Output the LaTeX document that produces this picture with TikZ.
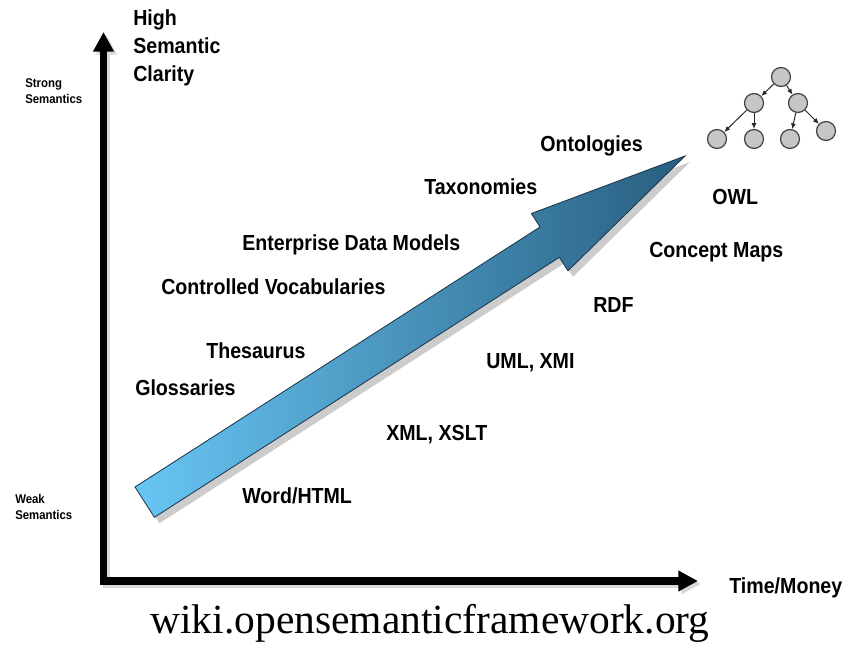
\documentclass[tikz,border=0pt]{standalone}
\usepackage{fontspec}
\setmainfont{Liberation Sans}[FakeStretch=0.9]
\newfontfamily\sitefont{Liberation Serif}
\usetikzlibrary{arrows.meta}

\definecolor{arrowlight}{RGB}{104,198,244}
\definecolor{arrowmid}{RGB}{80,168,218}
\definecolor{arrowdark}{RGB}{40,94,128}
\definecolor{arrowedge}{RGB}{30,55,75}

\tikzset{
	semaxis/.style={line width=5pt, line join=miter,
		{Triangle[length=14pt,width=14pt]}-{Triangle[length=14pt,width=14pt]}},
	term/.style={font=\bfseries\fontsize{15.5}{20}\selectfont, anchor=base west, inner sep=0pt},
	smallterm/.style={font=\bfseries\fontsize{9}{11.5}\selectfont, anchor=north west, align=left, inner sep=0pt},
	concept/.style={circle, draw=gray!55!black, fill=gray!45, line width=0.9pt, minimum size=13.5pt, inner sep=0pt},
	link/.style={draw=gray!30!black, line width=0.7pt, -{Latex[length=4pt,width=3.5pt]}},
}

\begin{document}
\begin{tikzpicture}[
			x=0.025cm, y=-0.025cm,
		]
		\useasboundingbox (0,0) rectangle (860,655);

		% axes
		\draw[semaxis, gray!30, shift={(3,3)}] (103.5,32) -- (103.5,581) -- (698,581);
		\draw[semaxis] (103.5,32) -- (103.5,581) -- (698,581);

		\node[term, anchor=north west, align=left, font=\bfseries\fontsize{15.5}{20}\selectfont] (clarity) at (133,9) {High\\Semantic\\Clarity};
		\node[smallterm] (strong) at (25,78) {Strong\\Semantics};
		\node[smallterm] (weak) at (15,494) {Weak\\Semantics};
		\node[term] (money) at (729,593) {Time/Money};

		% the big arrow
		\fill[gray!40, shift={(5,6)}] (135,487) -- (540,227) -- (531.4,213.5) -- (685,156)
			-- (568,270.8) -- (559.4,257.3) -- (154.4,517.3) -- cycle;
		\shade[left color=arrowlight, middle color=arrowmid, right color=arrowdark, draw=arrowedge, line width=0.6pt]
			(135,487) -- (540,227) -- (531.4,213.5) -- (685,156)
			-- (568,270.8) -- (559.4,257.3) -- (154.4,517.3) -- cycle;

		% above the arrow
		\node[term] (glossaries) at (135,395) {Glossaries};
		\node[term] (thesaurus) at (206,358) {Thesaurus};
		\node[term] (vocab) at (161,295) {Controlled Vocabularies};
		\node[term] (edm) at (242,251) {Enterprise Data Models};
		\node[term] (taxonomies) at (424,195) {Taxonomies};
		\node[term] (ontologies) at (540,152) {Ontologies};

		% below the arrow
		\node[term] (word) at (242,503) {Word/HTML};
		\node[term] (xml) at (386,440) {XML, XSLT};
		\node[term] (uml) at (486,368) {UML, XMI};
		\node[term] (rdf) at (593,313) {RDF};
		\node[term] (cmaps) at (649,258) {Concept Maps};
		\node[term] (owl) at (712,205) {OWL};

		% small tree
		\node[concept] (root) at (781,77) {};
		\node[concept] (left) at (754,103) {};
		\node[concept] (right) at (798,103) {};
		\node[concept] (leafa) at (717,139) {};
		\node[concept] (leafb) at (754,139) {};
		\node[concept] (leafc) at (790,139) {};
		\node[concept] (leafd) at (826,131) {};
		\draw[link] (root) -- (left);
		\draw[link] (root) -- (right);
		\draw[link] (left) -- (leafa);
		\draw[link] (left) -- (leafb);
		\draw[link] (right) -- (leafc);
		\draw[link] (right) -- (leafd);

		\node[anchor=base, inner sep=0pt, font=\sitefont\fontsize{29.5}{32}\selectfont] (site) at (430,633) {wiki.opensemanticframework.org};
	\end{tikzpicture}
\end{document}
